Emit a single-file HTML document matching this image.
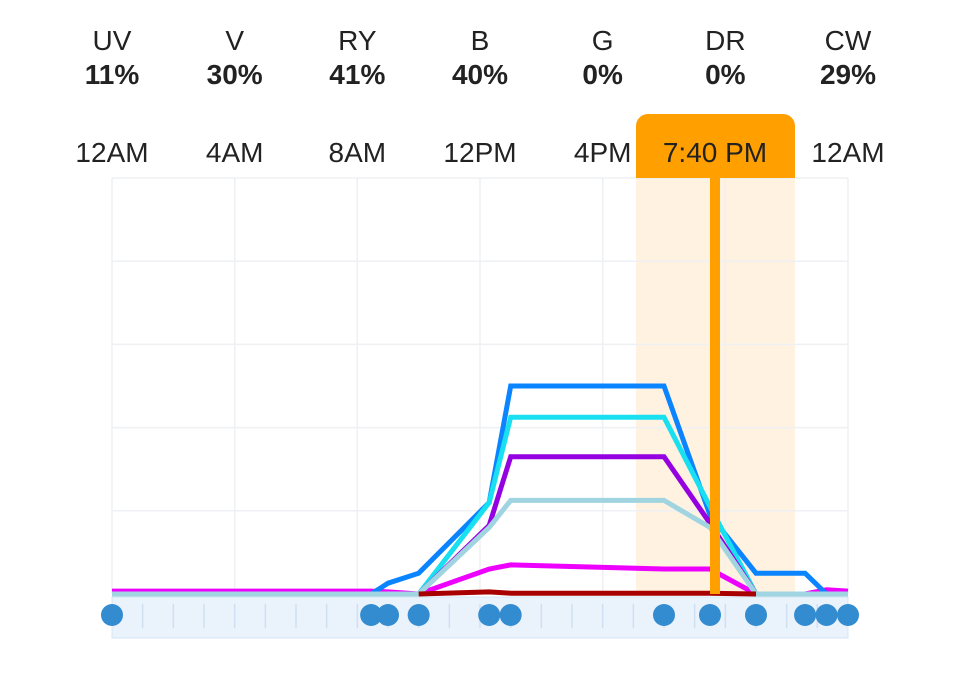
<!DOCTYPE html>
<html><head><meta charset="utf-8"><style>
body{margin:0;background:#fff;width:960px;height:673px;overflow:hidden;font-family:"Liberation Sans",sans-serif}
svg{display:block}
</style></head><body>
<svg width="960" height="673">
<g id="hdr"></g>
<rect x="636" y="178" width="159" height="416" fill="#fff2e0"/>
<g id="grid"></g>
<rect x="112" y="597" width="736" height="41" fill="#eaf2fc" stroke="#d6e4f5"/>
<g id="ticks"></g>
<g id="lines"></g>
<path d="M636 178 V126 a12 12 0 0 1 12 -12 H783 a12 12 0 0 1 12 12 V178 Z" fill="#ff9f00"/>
<text x="715" y="162" text-anchor="middle" font-size="28" fill="#222">7:40 PM</text>
<rect x="710" y="178" width="10" height="416" fill="#ff9f00"/>
<g id="dots"></g>
</svg>
<script>
const channels=["UV","V","RY","B","G","DR","CW"];
const percents=["11%","30%","41%","40%","0%","0%","29%"];
const timeLabels=["12AM","4AM","8AM","12PM","4PM","","12AM"];
const hours=[0,8.45,9,10,12.3,13,18,19.5,21,22.6,23.3,24];
const blueVals=[0,0,2.6,5,22,50,50,19,5,5,0,0];
const cyanVals=[0,0,0,0,22,42.5,42.5,21,0,0,0,0];
const purpleVals=[0,0,0,0,16.5,33,33,17,0,0,0,0];
const lightVals=[0,0,0,0,16,22.5,22.5,16,0,0,0,0];
const magentaVals=[0.7,0.7,0.5,0,6,7,6,6,0,0,1,0.7];
const redVals=[null,null,null,0,0.5,0.2,0.2,0.2,0,null,null,null];
const NS="http://www.w3.org/2000/svg";
const X=h=>112+h*736/24, Y=v=>594-v*416/100;
function mk(t,a,p){const e=document.createElementNS(NS,t);for(const k in a)e.setAttribute(k,a[k]);p.appendChild(e);return e;}
const hdr=document.getElementById('hdr');
channels.forEach((c,i)=>{const x=X(i*4);
 const t=mk('text',{x:x,y:50,'text-anchor':'middle','font-size':28,fill:'#222'},hdr);t.textContent=c;
 
 
 const p=mk('text',{x:x,y:84,'text-anchor':'middle','font-size':28,'font-weight':'bold',fill:'#222'},hdr);p.textContent=percents[i];
 
 
 if(timeLabels[i]){const l=mk('text',{x:x,y:162,'text-anchor':'middle','font-size':28,fill:'#222'},hdr);l.textContent=timeLabels[i];
 
 }
});
const grid=document.getElementById('grid');
for(let i=0;i<=6;i++){const g=mk('line',{x1:X(i*4),x2:X(i*4),y1:178,y2:594,stroke:'#eef0f3','stroke-width':1.5},grid);
 
 }
for(let i=0;i<=5;i++){const g=mk('line',{x1:112,x2:848,y1:Y(i*20),y2:Y(i*20),stroke:'#eef0f3','stroke-width':1.5},grid);
 
 }
const ticks=document.getElementById('ticks');
for(let h=1;h<24;h++){const t=mk('line',{x1:X(h),x2:X(h),y1:604,y2:628,stroke:'#cfe0f2','stroke-width':1.5},ticks);
 
 }
const lines=document.getElementById('lines');
function series(vals,color,name){let d='',first=true;
 vals.forEach((v,i)=>{if(v===null)return;d+=(first?'M':'L')+X(hours[i]).toFixed(1)+' '+Y(v).toFixed(1)+' ';first=false;});
 const p=mk('path',{d:d,fill:'none',stroke:color,'stroke-width':5,'stroke-linejoin':'miter'},lines);
 
 }
series(magentaVals,'#ee00ff','series-uv');
series(blueVals,'#0a84ff','series-b');
series(cyanVals,'#18e0f0','series-ry');
series(purpleVals,'#9400e0','series-v');
series(lightVals,'#a0d4e0','series-cw');
series(redVals,'#a80000','series-dr');
const dots=document.getElementById('dots');
hours.forEach(h=>{const c=mk('circle',{cx:X(h),cy:615,r:11,fill:'#338bd0'},dots);
 
 });
</script>
</body></html>
